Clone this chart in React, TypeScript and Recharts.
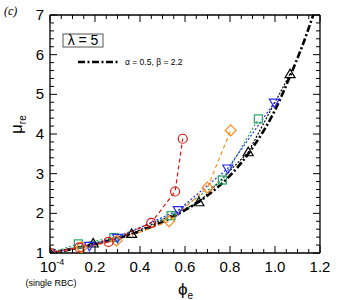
import { LineChart, Line, XAxis, YAxis } from "recharts"

// red circles
const redPhi = [0.0001, 0.13, 0.26, 0.45, 0.556, 0.59]
const redMu = [1.0, 1.14, 1.28, 1.76, 2.55, 3.88]
// orange diamonds
const orangePhi = [0.0001, 0.14, 0.296, 0.529, 0.7, 0.803]
const orangeMu = [1.0, 1.14, 1.31, 1.8, 2.65, 4.09]
// green squares
const greenPhi = [0.0001, 0.126, 0.284, 0.538, 0.766, 0.926]
const greenMu = [1.0, 1.23, 1.39, 1.94, 2.84, 4.38]
// blue down triangles
const bluePhi = [0.0001, 0.175, 0.3, 0.57, 0.79, 0.997]
const blueMu = [1.0, 1.18, 1.38, 2.08, 3.13, 4.79]
// black triangles
const blackPhi = [0.0001, 0.192, 0.363, 0.662, 0.881, 1.067]
const blackMu = [1.0, 1.24, 1.48, 2.28, 3.54, 5.51]
// fit curve, alpha = 0.5, beta = 2.2
const fitPhi = [0, 0.2, 0.4, 0.6, 0.7, 0.8, 0.9, 1.0, 1.07, 1.12, 1.17]
const fitMu = [1.0, 1.22, 1.55, 2.08, 2.45, 2.95, 3.65, 4.6, 5.5, 6.2, 7.0]

const xMajor = [0, 0.2, 0.4, 0.6, 0.8, 1.0, 1.2]
const xLabels = ["10", "0.2", "0.4", "0.6", "0.8", "1.0", "1.2"]
const yMajor = [1, 2, 3, 4, 5, 6, 7]

const xTicks = Array.from({ length: 25 }, (_, i) => +(i * 0.05).toFixed(2))
const yTicks = Array.from({ length: 31 }, (_, i) => +(1 + i * 0.2).toFixed(1))

const zip = (xs: number[], ys: number[]) => xs.map((x, i) => ({ x, y: ys[i] }))

const FONT = "'Liberation Sans', Arial, sans-serif"
const isMajorX = (v: number) => xMajor.some((m) => Math.abs(m - v) < 1e-6)
const isMajorY = (v: number) => yMajor.some((m) => Math.abs(m - v) < 1e-6)

function BottomTick({ x, y, payload }: any) {
  const v = payload.value
  const major = isMajorX(v)
  const idx = xMajor.findIndex((m) => Math.abs(m - v) < 1e-6)
  return (
    <g>
      <line x1={x} x2={x} y1={y} y2={y - (major ? 7 : 4)} stroke="#000" strokeWidth={1} />
      {major && idx === 0 && (
        <text x={x + 2} y={y + 19} textAnchor="middle" fontSize={15} fontFamily={FONT} fill="#000">
          10<tspan fontSize={9} dy={-7}>-4</tspan>
        </text>
      )}
      {major && idx > 0 && (
        <text x={x} y={y + 19} textAnchor="middle" fontSize={15} fontFamily={FONT} fill="#000">
          {xLabels[idx]}
        </text>
      )}
    </g>
  )
}

function TopTick({ x, y, payload }: any) {
  const major = isMajorX(payload.value)
  return <line x1={x} x2={x} y1={y} y2={y + (major ? 7 : 4)} stroke="#000" strokeWidth={1} />
}

function LeftTick({ x, y, payload }: any) {
  const v = payload.value
  const major = isMajorY(v)
  return (
    <g>
      <line x1={x} x2={x + (major ? 7 : 4)} y1={y} y2={y} stroke="#000" strokeWidth={1} />
      {major && (
        <text x={x - 6} y={y + 5} textAnchor="end" fontSize={15} fontFamily={FONT} fill="#000">
          {v}
        </text>
      )}
    </g>
  )
}

function RightTick({ x, y, payload }: any) {
  const major = isMajorY(payload.value)
  return <line x1={x} x2={x - (major ? 7 : 4)} y1={y} y2={y} stroke="#000" strokeWidth={1} />
}

const circleDot = (color: string) => (p: any) =>
  <circle key={p.index} cx={p.cx} cy={p.cy} r={4.5} fill="none" stroke={color} strokeWidth={1.2} />

const diamondDot = (color: string) => (p: any) => (
  <path
    key={p.index}
    d={`M${p.cx},${p.cy - 5.5} L${p.cx + 5.5},${p.cy} L${p.cx},${p.cy + 5.5} L${p.cx - 5.5},${p.cy} Z`}
    fill="none"
    stroke={color}
    strokeWidth={1.2}
  />
)

const squareDot = (color: string) => (p: any) =>
  <rect key={p.index} x={p.cx - 4} y={p.cy - 4} width={8} height={8} fill="none" stroke={color} strokeWidth={1.2} />

const triDownDot = (color: string) => (p: any) => (
  <path
    key={p.index}
    d={`M${p.cx - 5},${p.cy - 3.5} L${p.cx + 5},${p.cy - 3.5} L${p.cx},${p.cy + 5} Z`}
    fill="none"
    stroke={color}
    strokeWidth={1.2}
  />
)

const triUpDot = (color: string) => (p: any) => (
  <path
    key={p.index}
    d={`M${p.cx - 5},${p.cy + 3.5} L${p.cx + 5},${p.cy + 3.5} L${p.cx},${p.cy - 5} Z`}
    fill="none"
    stroke={color}
    strokeWidth={1.2}
  />
)

export default function App() {
  const axisLine = { stroke: "#000", strokeWidth: 1.3 }
  return (
    <div style={{ position: "absolute", left: 0, top: 0, width: 337, height: 300, background: "#fff" }}>
      <LineChart width={337} height={300} margin={{ top: 14, right: 16, bottom: 46, left: 49 }}>
        <XAxis
          xAxisId="b"
          type="number"
          dataKey="x"
          orientation="bottom"
          domain={[0, 1.2]}
          ticks={xTicks}
          interval={0}
          height={1}
          tickSize={0}
          tickMargin={0}
          tickLine={false}
          axisLine={axisLine}
          tick={<BottomTick />}
          allowDataOverflow
        />
        <XAxis
          xAxisId="t"
          type="number"
          dataKey="x"
          orientation="top"
          domain={[0, 1.2]}
          ticks={xTicks}
          interval={0}
          height={1}
          tickSize={0}
          tickMargin={0}
          tickLine={false}
          axisLine={axisLine}
          tick={<TopTick />}
          allowDataOverflow
        />
        <YAxis
          yAxisId="l"
          type="number"
          domain={[1, 7]}
          ticks={yTicks}
          interval={0}
          width={1}
          tickSize={0}
          tickMargin={0}
          tickLine={false}
          axisLine={axisLine}
          tick={<LeftTick />}
          allowDataOverflow
        />
        <YAxis
          yAxisId="r"
          orientation="right"
          type="number"
          domain={[1, 7]}
          ticks={yTicks}
          interval={0}
          width={1}
          tickSize={0}
          tickMargin={0}
          tickLine={false}
          axisLine={axisLine}
          tick={<RightTick />}
          allowDataOverflow
        />

        <Line xAxisId="b" yAxisId="l" data={zip(fitPhi, fitMu)} dataKey="y" type="monotone" stroke="#000" strokeWidth={2.6} strokeDasharray="7 2.5 2 2.5" dot={false} isAnimationActive={false} />
        <Line xAxisId="t" yAxisId="r" data={zip(blackPhi, blackMu)} dataKey="y" stroke="#000" strokeWidth={1.2} strokeDasharray="2 1.5" dot={triUpDot("#000")} isAnimationActive={false} />
        <Line xAxisId="b" yAxisId="l" data={zip(greenPhi, greenMu)} dataKey="y" stroke="#22a860" strokeWidth={1.2} strokeDasharray="2 2" dot={squareDot("#22a860")} isAnimationActive={false} />
        <Line xAxisId="b" yAxisId="l" data={zip(bluePhi, blueMu)} dataKey="y" stroke="#2b2bff" strokeWidth={1.2} strokeDasharray="2 2" dot={triDownDot("#2b2bff")} isAnimationActive={false} />
        <Line xAxisId="b" yAxisId="l" data={zip(orangePhi, orangeMu)} dataKey="y" stroke="#ff8c1a" strokeWidth={1.2} strokeDasharray="4 3" dot={diamondDot("#ff8c1a")} isAnimationActive={false} />
        <Line xAxisId="b" yAxisId="l" data={zip(redPhi, redMu)} dataKey="y" stroke="#e01010" strokeWidth={1.2} strokeDasharray="4 3" dot={circleDot("#e01010")} isAnimationActive={false} />

        {/* legend box and fit legend */}
        <rect x={63} y={34} width={40} height={13} fill="#fff" stroke="#555" strokeWidth={1} />
        <text x={83} y={45} textAnchor="middle" fontSize={14} fontFamily={FONT} fill="#000">λ = 5</text>
        <line x1={78} x2={119} y1={62} y2={62} stroke="#000" strokeWidth={2.6} strokeDasharray="7 2.5 2 2.5" />
        <text x={125} y={65} fontSize={8.5} fontFamily={FONT} fill="#000">α = 0.5, β = 2.2</text>

        {/* labels */}
        <text x={4} y={15} fontSize={12} fontFamily="'Liberation Serif', serif" fontStyle="italic" fill="#000">(c)</text>
        <text x={51} y={286} textAnchor="middle" fontSize={9} fontFamily={FONT} fill="#000">(single RBC)</text>
        <text x={178} y={295} fontSize={17} fontFamily={FONT} fill="#000">
          ϕ<tspan fontSize={10} dy={4}>e</tspan>
        </text>
        <text transform="translate(22,134) rotate(-90)" fontSize={17} fontFamily={FONT} fill="#000">
          μ<tspan fontSize={10} dy={4}>re</tspan>
        </text>
      </LineChart>
    </div>
  )
}
